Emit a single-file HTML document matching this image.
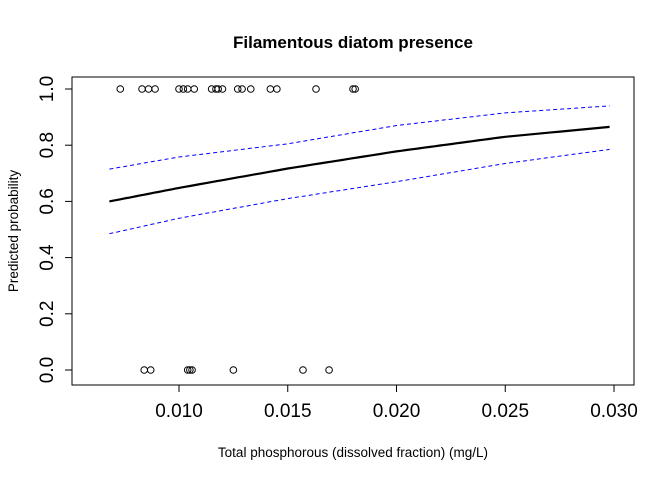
<!DOCTYPE html>
<html><head><meta charset="utf-8"><style>
body{margin:0;background:#fff}
svg text{font-family:"Liberation Sans",Arial,sans-serif}
</style></head><body>
<svg id="c" width="672" height="480" xmlns="http://www.w3.org/2000/svg">
<rect width="672" height="480" fill="#fff"/>
<text x="353" y="48" text-anchor="middle" font-weight="bold" font-size="17">Filamentous diatom presence</text>
<text x="353" y="457" text-anchor="middle" font-size="13.5">Total phosphorous (dissolved fraction) (mg/L)</text>
<text transform="translate(18,231) rotate(-90)" text-anchor="middle" font-size="13.5">Predicted probability</text>
<rect x="72" y="77" width="562" height="308" fill="none" stroke="#000"/>
<g id="ax"></g><g id="marks"></g>
</svg>
<script>
const xTicks=[0.010,0.015,0.020,0.025,0.030];
const xTickLabels=["0.010","0.015","0.020","0.025","0.030"];
const yTicks=[0,0.2,0.4,0.6,0.8,1.0];
const yTickLabels=["0.0","0.2","0.4","0.6","0.8","1.0"];
const presentX=[0.0073,0.0083,0.0086,0.0089,0.0100,0.0102,0.0104,0.0107,0.0115,0.0117,0.0118,0.0120,0.0127,0.0129,0.0133,0.0142,0.0145,0.0163,0.0180,0.0181];
const absentX=[0.0084,0.0087,0.0104,0.0105,0.0106,0.0125,0.0157,0.0169];
const curveX=[0.0068,0.010,0.015,0.020,0.025,0.0298];
const fitY=[0.600,0.648,0.717,0.778,0.830,0.865];
const upperY=[0.715,0.758,0.805,0.870,0.915,0.940];
const lowerY=[0.485,0.540,0.610,0.670,0.735,0.785];
const NS="http://www.w3.org/2000/svg";
const sx=v=>179+(v-0.010)*21750;
const sy=v=>370-v*281;
const ax=document.getElementById('ax'),mk=document.getElementById('marks');
function el(t,a,p){const e=document.createElementNS(NS,t);for(const k in a)e.setAttribute(k,a[k]);p.appendChild(e);return e;}
xTicks.forEach((v,i)=>{
 const l=el('line',{x1:sx(v),x2:sx(v),y1:385,y2:392,stroke:'#000'},ax);
 
 
 const t=el('text',{x:sx(v),y:417,'text-anchor':'middle','font-size':'19'},ax);t.textContent=xTickLabels[i];
 
 
});
yTicks.forEach((v,i)=>{
 const l=el('line',{x1:65,x2:72,y1:sy(v),y2:sy(v),stroke:'#000'},ax);
 
 
 const t=el('text',{transform:`translate(53,${sy(v)}) rotate(-90)`,'text-anchor':'middle','font-size':'19'},ax);t.textContent=yTickLabels[i];
 
 
});
function line(ys,attrs,name){
 let d='';
 for(let i=0;i<curveX.length-1;i++){for(let k=0;k<=20;k++){const f=k/20;const x=curveX[i]+(curveX[i+1]-curveX[i])*f;const y=ys[i]+(ys[i+1]-ys[i])*f;d+=(d?'L':'M')+sx(x).toFixed(1)+','+sy(y).toFixed(1);}}
 const p=el('path',Object.assign({d:d,fill:'none'},attrs),mk);
 
 
}
line(fitY,{stroke:'#000','stroke-width':2.2},'fitted-line');
line(upperY,{stroke:'#00f','stroke-width':1,'stroke-dasharray':'4,3'},'upper-ci-line');
line(lowerY,{stroke:'#00f','stroke-width':1,'stroke-dasharray':'4,3'},'lower-ci-line');
presentX.forEach(v=>{const c=el('circle',{cx:sx(v),cy:sy(1),r:3.3,fill:'none',stroke:'#000'},mk);
 
 });
absentX.forEach(v=>{const c=el('circle',{cx:sx(v),cy:sy(0),r:3.3,fill:'none',stroke:'#000'},mk);
 
 });
</script>
</body></html>
